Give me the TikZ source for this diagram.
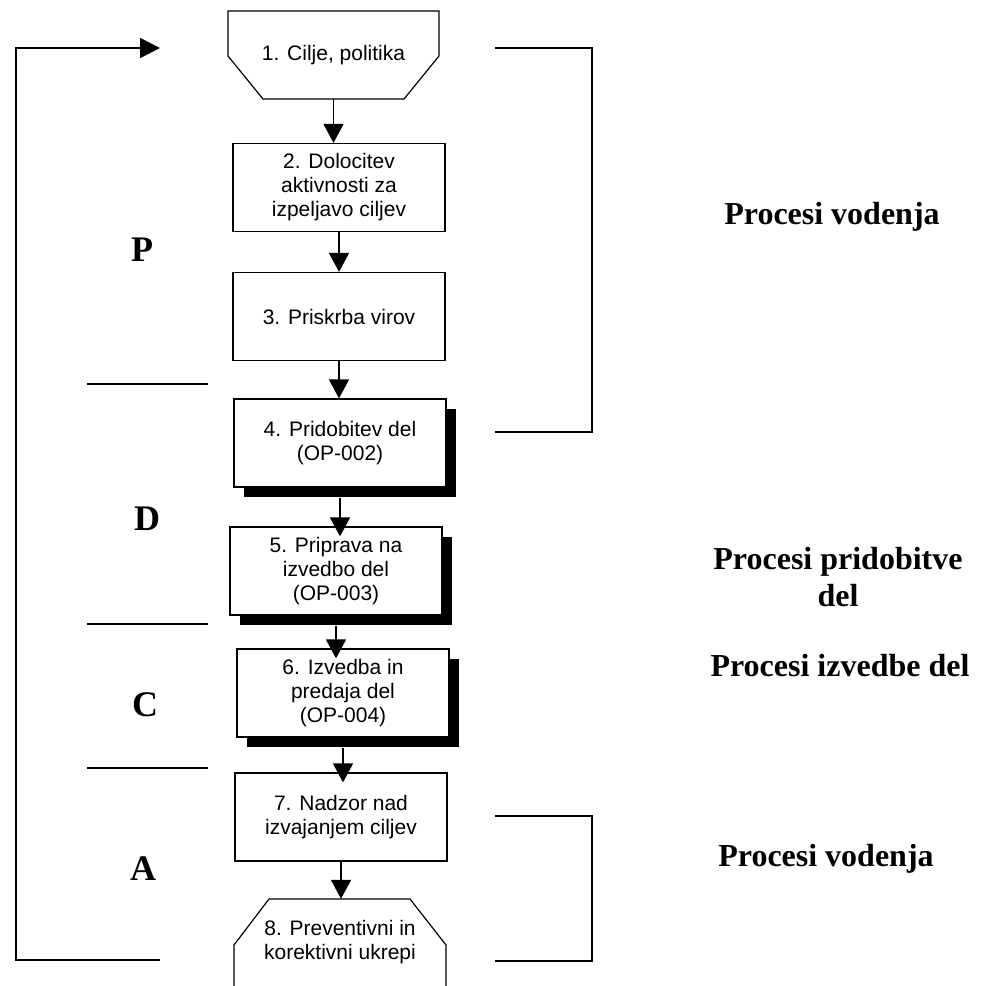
\documentclass[tikz,border=0pt]{standalone}
\usepackage{fontspec}
\setmainfont{Liberation Serif}
\newfontfamily\boxfont{Liberation Sans}
\usetikzlibrary{arrows.meta,shadows}
\begin{document}
\begin{tikzpicture}[x=1pt,y=-1pt,
  boxtext/.style={font=\boxfont\fontsize{21}{24}\selectfont,align=center,inner sep=0pt},
  stepbox/.style={boxtext,draw,line width=1.2pt,fill=white,minimum width=212pt,minimum height=88pt},
  shadowbox/.style={stepbox,drop shadow={shadow xshift=10pt,shadow yshift=-10pt,fill=black,opacity=1}},
  conn/.style={line width=1.5pt,-{Triangle[length=19pt,width=20pt]}},
  rule/.style={line width=2pt},
  phase/.style={font=\bfseries\fontsize{36}{40}\selectfont,inner sep=0pt},
  group/.style={font=\bfseries\fontsize{32}{37}\selectfont,align=center,inner sep=0pt}]
\useasboundingbox (0,0) rectangle (986,986);

% 1: goals node (inverted trapezoid outline)
\node[boxtext,minimum width=211pt,minimum height=88pt] (n1) at (333.5,55) {1. Cilje, politika};
\draw[line width=1.2pt] (228,11) -- (439,11) -- (439,56) -- (404,99) -- (263,99) -- (228,56) -- cycle;

\node[stepbox] (n2) at (339,187.5) {2. Dolocitev\\aktivnosti za\\izpeljavo ciljev};
\node[stepbox] (n3) at (339,316.5) {3. Priskrba virov};
\node[shadowbox] (n4) at (340,443) {4. Pridobitev del\\(OP-002)};
\node[shadowbox] (n5) at (336,571) {5. Priprava na\\izvedbo del\\(OP-003)};
\node[shadowbox] (n6) at (343,693) {6. Izvedba in\\predaja del\\(OP-004)};
\node[stepbox] (n7) at (341,817) {7. Nadzor nad\\izvajanjem ciljev};

% 8: corrective actions (open-bottom octagon)
\node[boxtext,minimum width=212pt,minimum height=87pt] (n8) at (340,942.5) {8. Preventivni in\\korektivni ukrepi};
\draw[line width=1.2pt] (234,986) -- (234,945) -- (269,899) -- (410,899) -- (446,945) -- (446,986);

% flow connectors (from below the shadow where there is one)
\draw[conn] (n1.south) -- (n1.south |- n2.north);
\draw[conn] (n2.south) -- (n3.north);
\draw[conn] (n3.south) -- (n3.south |- n4.north);
\draw[conn] ([yshift=-10pt]n4.south) -- ([yshift=-10pt]n4.south |- n5.north);
\draw[conn] ([yshift=-10pt]n5.south) -- ([yshift=-10pt]n5.south |- n6.north);
\draw[conn] ([yshift=-10pt]n6.south) -- ([yshift=-10pt]n6.south |- n7.north);
\draw[conn] (n7.south) -- (n7.south |- n8.north);

% feedback loop on the left
\coordinate (loopStart) at (160,960);
\coordinate (loopBottom) at (16,960);
\coordinate (loopTop) at (16,48);
\coordinate (loopEnd) at (160,48);
\draw[rule,-{Triangle[length=20pt,width=20pt]}] (loopStart) -- (loopBottom) -- (loopTop) -- (loopEnd);

% PDCA phase separators and letters
\draw[rule] (87,384) -- (208,384);
\draw[rule] (87,624) -- (208,624);
\draw[rule] (87,768) -- (208,768);
\node[phase] (pP) at (142,250) {P};
\node[phase] (pD) at (147,519) {D};
\node[phase] (pC) at (145,705) {C};
\node[phase] (pA) at (143,869) {A};

% brackets on the right
\draw[rule] (495,48) -- (592,48) -- (592,432) -- (495,432);
\draw[rule] (495,816) -- (592,816) -- (592,961) -- (495,961);

% process groups
\node[group] (g1) at (832,217) {Procesi vodenja};
\node[group] (g2) at (838,577) {Procesi pridobitve\\del};
\node[group] (g3) at (840,666) {Procesi izvedbe del};
\node[group] (g4) at (826,859) {Procesi vodenja};
\end{tikzpicture}
\end{document}
